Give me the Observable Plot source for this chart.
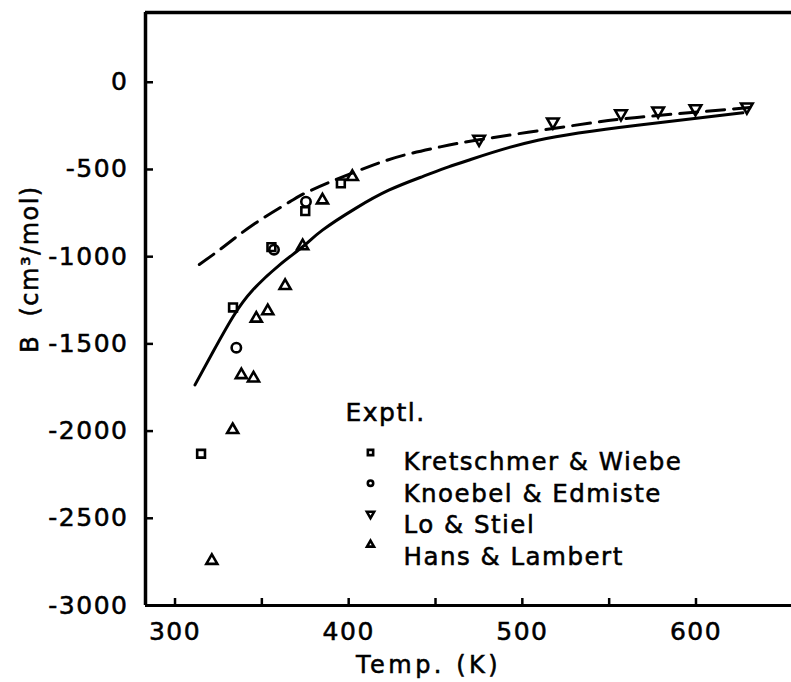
<!DOCTYPE html>
<html>
<head>
<meta charset="utf-8">
<script src="https://cdn.jsdelivr.net/npm/d3@7"></script>
<script src="https://cdn.jsdelivr.net/npm/@observablehq/plot@0.6"></script>
<style>
  html, body { margin: 0; padding: 0; background: #fff; }
</style>
</head>
<body>
<div id="chart"></div>
<script>
// ---- Data ----
// Kretschmer & Wiebe (squares)
const kwT = [315, 333.4, 355.5, 375, 395.5];
const kwB = [-2130, -1291, -945, -739, -580];
// Knoebel & Edmiste (circles)
const keT = [335.3, 357, 375.4];
const keB = [-1522, -960, -685];
// Lo & Stiel (down triangles)
const lsT = [475.1, 517.6, 556.8, 578.2, 599.7, 629.3];
const lsB = [-326, -227, -180, -164, -151, -141];
// Hans & Lambert (up triangles)
const hlT = [321.2, 333.2, 338.2, 345.2, 346.8, 353.4, 363.4, 373.5, 384.9, 402.1];
const hlB = [-2743, -1993, -1678, -1697, -1354, -1312, -1167, -939, -676, -542];
// Solid curve
const solidT = [311.5, 321.9, 333.4, 344.8, 360.1, 373.5, 384.9, 404, 423.1, 442.2, 457.5, 469, 509, 566.3, 627];
const solidB = [-1735, -1545, -1344, -1191, -1048, -943, -848, -723, -619, -542, -485, -447, -332, -246, -175];
// Dashed curve
const dashT = [314, 328, 346, 366, 375, 391, 414, 433, 452, 475, 528, 566, 631];
const dashB = [-1045, -943, -810, -686, -635, -565, -475, -415, -372, -330, -250, -202, -145];

const seriesNames = ["Kretschmer & Wiebe", "Knoebel & Edmiste", "Lo & Stiel", "Hans & Lambert"];
const legendTitle = "Exptl.";
const xTitle = "Temp. (K)";
const yTitle = "B  (cm³/mol)";
const xDomain = [283, 655];
const yDomain = [-3000, 400];
const xTicks = [300, 350, 400, 450, 500, 550, 600];
const xLabels = [300, 400, 500, 600];
const yTicks = [0, -500, -1000, -1500, -2000, -2500, -3000];

// ---- Build tables ----
const pts = (T, B) => T.map((t, i) => ({T: t, B: B[i]}));
const kw = pts(kwT, kwB), ke = pts(keT, keB), ls = pts(lsT, lsB), hl = pts(hlT, hlB);
const solid = pts(solidT, solidB), dashed = pts(dashT, dashB);

const sqrt3 = Math.sqrt(3);
const triangleDown = {
  draw(context, size) {
    const y = -Math.sqrt(size / (sqrt3 * 3));
    context.moveTo(0, -y * 2);
    context.lineTo(-sqrt3 * y, y);
    context.lineTo(sqrt3 * y, y);
    context.closePath();
  }
};
const symbols = ["square", "circle", triangleDown, "triangle"];
const datasets = [kw, ke, ls, hl];
const radii = [4.4, 4.7, 4.3, 4.1];
const legendRadii = [3.0, 2.7, 2.7, 2.6];

const font = "DejaVu Sans";
const frameW = 791 - 145, frameH = 605 - 12;

const marks = [
  // frame lines
  Plot.ruleY([yDomain[1]], {stroke: "#000", strokeWidth: 3.5}),
  Plot.ruleY([yDomain[0]], {stroke: "#000", strokeWidth: 3}),
  Plot.ruleX([xDomain[0]], {stroke: "#000", strokeWidth: 3.5}),
  // inward tick marks
  Plot.tickY(yTicks, {y: d => d, insetRight: frameW - 8, stroke: "#000", strokeWidth: 2.5}),
  Plot.tickX(xTicks, {x: d => d, insetTop: frameH - 7, stroke: "#000", strokeWidth: 2.5}),
  // axis labels
  Plot.axisX({ticks: xTicks, tickSize: 0, tickPadding: 17,
    tickFormat: d => xLabels.includes(d) ? String(d) : "", label: null,
    fontSize: 25, fontFamily: font}),
  Plot.axisY({ticks: yTicks, tickSize: 0, tickPadding: 17,
    tickFormat: d => String(d), label: null, fontSize: 25, fontFamily: font}),
  // curves
  Plot.line(solid, {x: "T", y: "B", curve: "natural", stroke: "#000", strokeWidth: 3}),
  Plot.line(dashed, {x: "T", y: "B", curve: "natural", stroke: "#000", strokeWidth: 3, strokeDasharray: "18,9"}),
  // points
  ...datasets.map((d, i) => Plot.dot(d, {x: "T", y: "B", symbol: () => symbols[i], r: radii[i],
      stroke: "#000", strokeWidth: 2.6, fill: "none"})),
  // legend
  Plot.text([legendTitle], {frameAnchor: "top-left", dx: 200, dy: 391, lineAnchor: "top", textAnchor: "start",
      text: d => d, fontSize: 25, fontFamily: font, fill: "#000"}),
  ...seriesNames.map((n, i) => Plot.dot([n], {frameAnchor: "top-left", dx: 225, dy: 440 + 30.7 * i,
      symbol: () => symbols[i], r: legendRadii[i], stroke: "#000", strokeWidth: 2.6, fill: "none"})),
  Plot.text([seriesNames.join("\n")], {frameAnchor: "top-left", dx: 258, dy: 435, lineAnchor: "top",
      textAnchor: "start", text: d => d, lineHeight: 1.29, fontSize: 24.5, fontFamily: font, fill: "#000"}),
  // axis titles
  Plot.text([xTitle], {frameAnchor: "bottom", dx: -40, dy: 50, lineAnchor: "top", textAnchor: "middle",
      text: d => d, fontSize: 24, fontFamily: font, fill: "#000"}),
  Plot.text([yTitle], {frameAnchor: "left", dx: -115, dy: -40, rotate: -90, lineAnchor: "middle", textAnchor: "middle",
      text: d => d, fontSize: 24, fontFamily: font, fill: "#000"})
];

const chart = Plot.plot({
  width: 791,
  height: 682,
  marginLeft: 145,
  marginRight: 0,
  marginTop: 12,
  marginBottom: 77,
  x: {domain: xDomain},
  y: {domain: yDomain},
  style: {fontFamily: font, fontSize: "24px", color: "#000", background: "#fff", letterSpacing: "1.5px"},
  marks
});
// slightly heavier type, wider title spacing (styling only)
d3.select(chart).selectAll("text").attr("stroke", "#000").attr("stroke-width", 0.55);
d3.select(chart).selectAll("text").filter(function () { return this.textContent === xTitle; })
  .style("letter-spacing", "3.5px");
document.getElementById("chart").appendChild(chart);
</script>
</body>
</html>
